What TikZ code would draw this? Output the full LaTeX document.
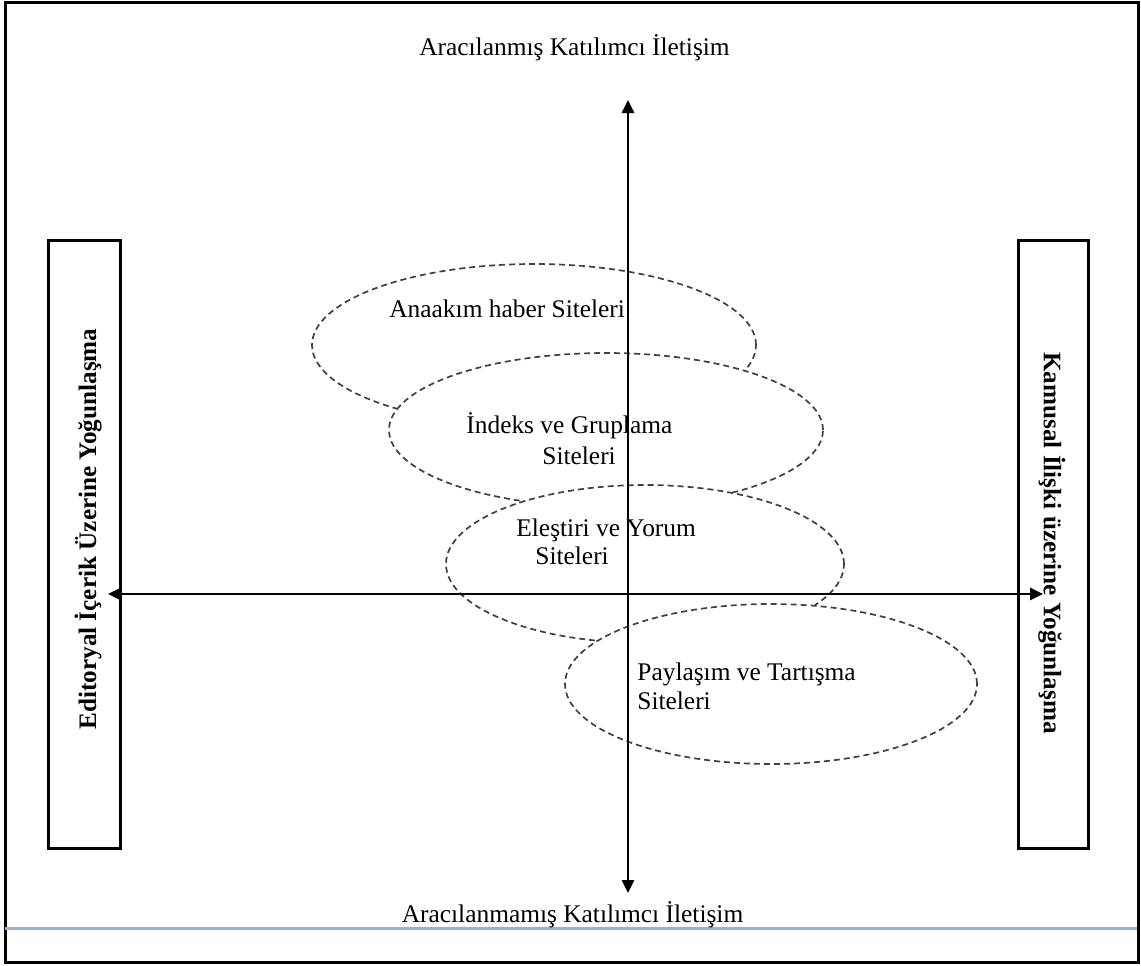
\documentclass[tikz,border=0pt]{standalone}
\usepackage{fontspec}
\setmainfont{Liberation Serif}
\usetikzlibrary{shapes.geometric,arrows.meta}
\definecolor{wordblue}{RGB}{150,178,215}

\begin{document}
\begin{tikzpicture}[x=0.5pt,y=-0.5pt]
   \tikzstyle{every node}=[font=\fontsize{12.7}{15}\selectfont, inner sep=0pt]
   \tikzstyle{site}=[draw=black!75, dash pattern=on 3pt off 2pt, line width=0.85pt, ellipse, fill=white]
   \tikzstyle{sitetext}=[anchor=base west]
   \tikzstyle{focusbox}=[draw, line width=1.5pt, minimum height=304pt]
   \tikzstyle{focustext}=[font=\fontsize{12.6}{15}\selectfont\bfseries]
   \tikzstyle{axis}=[line width=1.4pt, {Triangle[length=6.5pt,width=6pt]}-{Triangle[length=6.5pt,width=6pt]}]

\useasboundingbox (0,0) rectangle (1141,965);
\draw[line width=1.5pt] (5,2) rectangle (1138.5,962.5);
\draw[wordblue, line width=1.1pt] (5,928.5) -- (1137,928.5);

\node[focusbox, minimum width=36pt] (leftbox) at (84,544) {};
\node[focusbox, minimum width=35pt] (rightbox) at (1053,544) {};
\node[focustext, rotate=90] (editoryal) at (88,529) {Editoryal İçerik Üzerine Yoğunlaşma};
\node[focustext, rotate=-90] (kamusal) at (1052,543) {Kamusal İlişki üzerine Yoğunlaşma};

\node[site, minimum width=222pt, minimum height=81pt] (anaakim) at (534,345) {};
\node[sitetext] (anaakimtext) at (389,317) {Anaakım haber Siteleri};
\node[site, minimum width=217pt, minimum height=77pt] (indeks) at (606,430) {};
\node[sitetext] (indekstext) at (466,433) {İndeks ve Gruplama};
\node[sitetext] (indekstext2) at (542,464) {Siteleri};
\node[site, minimum width=199pt, minimum height=79pt] (elestiri) at (645,564) {};
\node[sitetext] (elestiritext) at (516,536) {Eleştiri ve Yorum};
\node[sitetext] (elestiritext2) at (535,564) {Siteleri};
\node[site, minimum width=206pt, minimum height=80pt] (paylasim) at (771,684) {};
\node[sitetext] (paylasimtext) at (637,680) {Paylaşım ve Tartışma};
\node[sitetext] (paylasimtext2) at (637,709) {Siteleri};

\node[anchor=base] (aracili) at (574.5,55) {Aracılanmış Katılımcı İletişim};
\node[anchor=base] (aracisiz) at (572.5,922) {Aracılanmamış Katılımcı İletişim};

\coordinate (vtop) at (628,100);
\coordinate (vbottom) at (628,893);
\coordinate (hleft) at (108,594);
\coordinate (hright) at (1043,594);
\draw[axis] (vbottom) -- (vtop);
\draw[axis] (hleft) -- (hright);

\end{tikzpicture}
\end{document}
